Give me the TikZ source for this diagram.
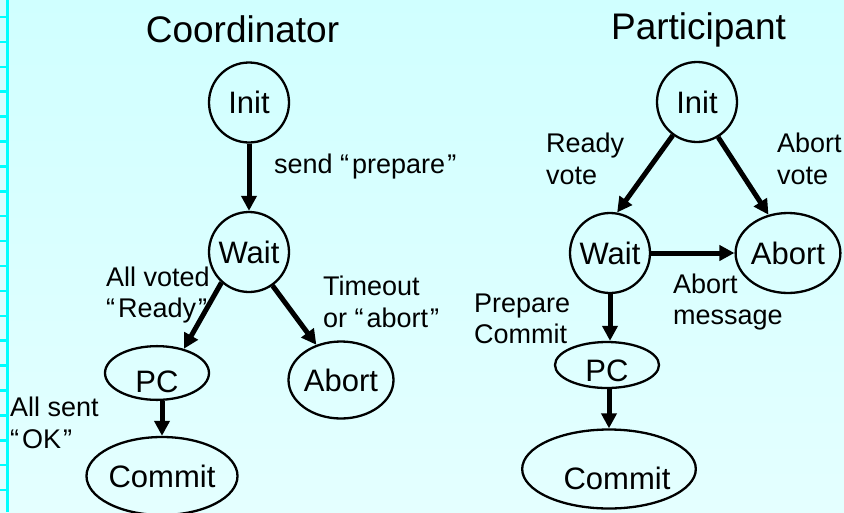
\documentclass[tikz,border=0pt]{standalone}
\usepackage{fontspec}
\setmainfont{Liberation Sans}
\usetikzlibrary{arrows.meta,shapes.geometric}
\definecolor{bgtop}{RGB}{208,255,255}
\definecolor{bgbot}{RGB}{228,255,255}
\definecolor{edgecyan}{RGB}{0,255,255}
% wide-set quotation marks
\newcommand{\oq}{“\hspace{3pt}}
\newcommand{\cq}{\hspace{2pt}”}
\begin{document}
\begin{tikzpicture}[x=1pt,y=-1pt,
  statecirc/.style={draw,line width=2.3pt,circle,minimum size=80pt,inner sep=0pt,
    font=\fontsize{31}{36}\selectfont},
  stateell/.style={draw,line width=2.3pt,ellipse,inner sep=0pt,
    font=\fontsize{31}{36}\selectfont},
  title/.style={font=\fontsize{37}{42}\selectfont},
  lbl/.style={anchor=west,align=left,inner sep=0pt,font=\fontsize{27}{31.5}\selectfont},
  arr/.style={line width=5pt,-{Triangle[length=15pt,width=15pt]}}]
  % background and ruler edge
  \shade[top color=bgtop,bottom color=bgbot] (0,0) rectangle (844,512);
  \useasboundingbox (0,0) rectangle (844,512);
  \draw[edgecyan,line width=3pt] (7.5,0) -- (7.5,512);
  \foreach \k in {0,...,19}
    \draw[edgecyan,line width=2.5pt] (0,17+24.9*\k) -- (7,17+24.9*\k);

  % ---------- Coordinator ----------
  \node[title] (ctitle) at (242.5,29.5) {Coordinator};
  \node[statecirc] (cinit) at (249,102.5) {Init};
  \node[statecirc] (cwait) at (249,252) {Wait};
  \node[stateell,minimum width=104pt,minimum height=48pt,text height=38pt,text depth=0pt]
    (cpc) at (157,373) {PC};
  \node[stateell,minimum width=105pt,minimum height=77pt] (cabort) at (341,380) {Abort};
  \node[stateell,minimum width=130pt,minimum height=78pt] (ccommit) at (162,476) {Commit};

  \draw[arr] (cinit) -- (cwait);
  \draw[arr] (cwait.228) -- (cpc.42);
  \draw[arr] (cwait.305) -- (cabort.125);
  \draw[arr] (ccommit.north |- cpc.south) -- (ccommit.north);

  \node[lbl] (lprep) at (274,167) {send \oq prepare\cq};
  \node[lbl] (lready) at (106,295) {All voted\\\oq Ready\cq};
  \node[lbl] (ltime) at (323,302) {Timeout\\or \oq abort\cq};
  \node[lbl] (lok) at (10,423) {All sent\\\oq OK\cq};

  % ---------- Participant ----------
  \node[title] (ptitle) at (698.5,29.5) {Participant};
  \node[statecirc] (pinit) at (697,102) {Init};
  \node[statecirc] (pwait) at (610,253) {Wait};
  \node[stateell,minimum width=103pt,minimum height=80pt] (pabort) at (788,253) {Abort};
  \node[stateell,minimum width=104pt,minimum height=46pt,text height=32pt,text depth=0pt]
    (ppc) at (607,365) {PC};
  \node[stateell,minimum width=128pt,minimum height=79pt,text height=40pt,text depth=0pt]
    (pcommit) at (609,469) {\hspace*{16pt}Commit};

  \draw[arr] (pinit.234) -- (pwait.80);
  \draw[arr] (pinit.301) -- (pabort.117);
  \draw[arr] (pwait.east) -- (pabort.west);
  \draw[arr] (pwait.south) -- (pwait.south |- ppc.north);
  \draw[arr] (pcommit.north |- ppc.south) -- (pcommit.north);

  \node[lbl] (lrvote) at (546,159) {Ready\\vote};
  \node[lbl] (lavote) at (777,159) {Abort\\vote};
  \node[lbl] (lamsg) at (673,302) {Abort\\message};
  \node[lbl] (lpc) at (474,319) {Prepare\\Commit};
\end{tikzpicture}
\end{document}
